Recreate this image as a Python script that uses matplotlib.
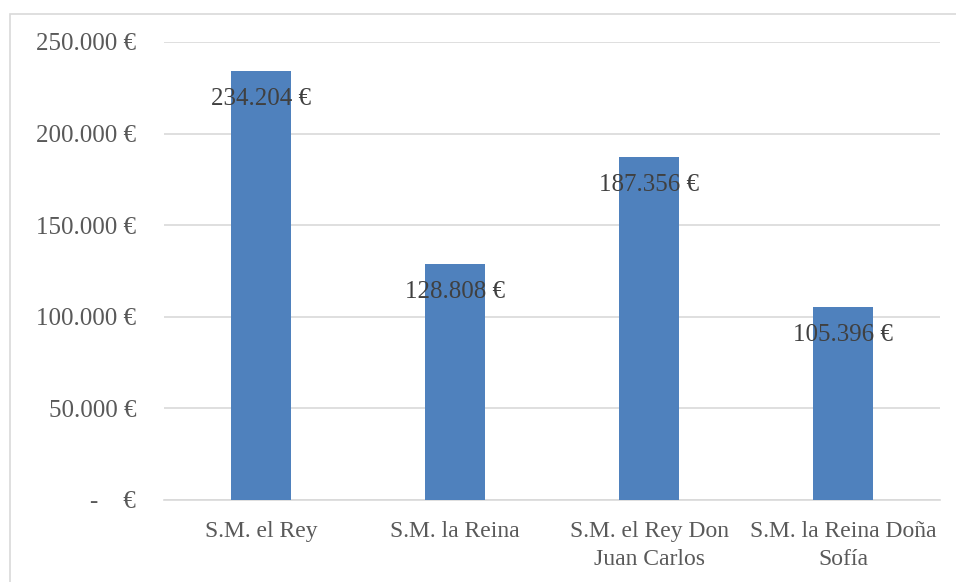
import matplotlib.pyplot as plt
from matplotlib.patches import Rectangle
from matplotlib.ticker import FuncFormatter

categorias = ["S.M. el Rey", "S.M. la Reina", "S.M. el Rey Don\nJuan Carlos", "S.M. la Reina Doña\nSofía"]
importes = [234204, 128808, 187356, 105396]
ticks_y = [0, 50000, 100000, 150000, 200000, 250000]


def formato_euro(valor, pos=None):
    if valor == 0:
        return "-    €"
    return f"{int(valor):,} €".replace(",", ".")


plt.rcParams['font.family'] = ['Liberation Serif', 'DejaVu Serif']

fig = plt.figure(figsize=(9.56, 5.82), dpi=100)
ax = fig.add_axes([164 / 956, 1 - 500 / 582, (940 - 164) / 956, (500 - 42) / 582])

# marco gris del grafico
fig.patches.append(Rectangle((10 / 956, -0.05), 1.0, 1 - 14 / 582 + 0.05,
                             transform=fig.transFigure, fill=False,
                             edgecolor="#D9D9D9", linewidth=1.2))

posiciones = range(len(categorias))
barras = ax.bar(posiciones, importes, width=0.31, color="#4F81BD", zorder=3)

for x, v in zip(posiciones, importes):
    ax.annotate(formato_euro(v), (x, v), xytext=(0, -28), textcoords="offset pixels",
                ha="center", va="center", fontsize=18, color="#404040", zorder=4)

ax.set_xlim(-0.5, len(categorias) - 0.5)
ax.set_ylim(0, 250000)
ax.set_yticks(ticks_y)
ax.yaxis.set_major_formatter(FuncFormatter(formato_euro))
ax.set_xticks(list(posiciones))
ax.set_xticklabels(categorias, linespacing=1.45)

ax.grid(axis="y", color="#D9D9D9", linewidth=1.2, zorder=0)
for lado in ["top", "right", "left"]:
    ax.spines[lado].set_visible(False)
ax.spines["bottom"].set_color("#D9D9D9")
ax.spines["bottom"].set_linewidth(1.2)
ax.tick_params(axis="both", length=0, labelcolor="#595959")
ax.tick_params(axis="y", pad=20, labelsize=18)
ax.tick_params(axis="x", pad=15, labelsize=17)

fig.savefig("out.png", dpi=100)
plt.close()
